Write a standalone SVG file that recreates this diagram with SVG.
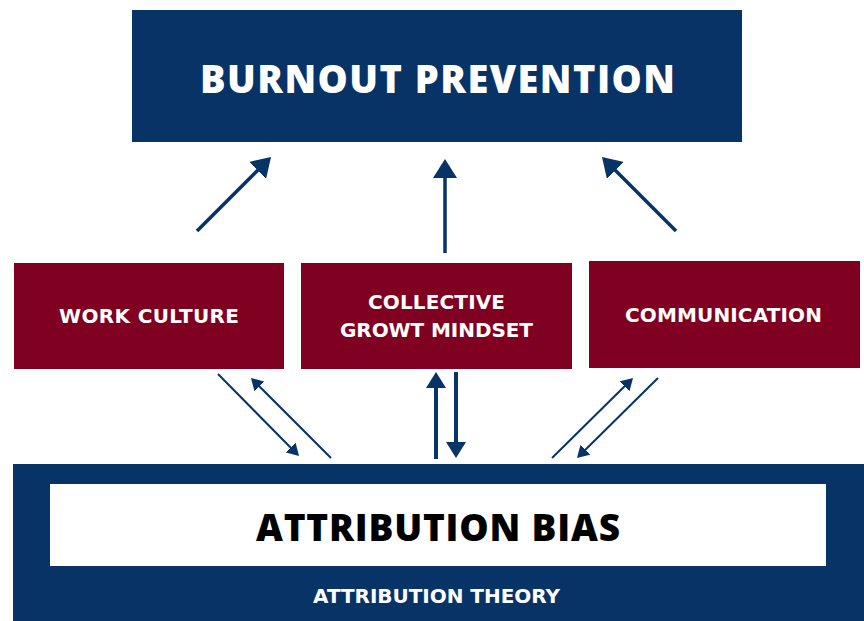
<svg xmlns="http://www.w3.org/2000/svg" width="864" height="621" viewBox="0 0 864 621">
  <style>
    .navy { fill: #073366; }
    .maroon { fill: #800022; }
    .label { font-family: "DejaVu Sans", "Liberation Sans", sans-serif; font-weight: 700; fill: #ffffff; text-anchor: middle; }
    .title { font-family: "Open Sans", "Liberation Sans", sans-serif; font-weight: 800; text-anchor: middle; }
    .link { stroke: #073366; fill: none; stroke-linecap: butt; }
  </style>
  <defs>
    <marker id="headL" markerUnits="userSpaceOnUse" markerWidth="19" markerHeight="24" refX="15" refY="12" orient="auto">
      <path d="M0,0 L19,12 L0,24 z" fill="#073366"/>
    </marker>
    <marker id="headM" markerUnits="userSpaceOnUse" markerWidth="16" markerHeight="20" refX="12" refY="10" orient="auto">
      <path d="M0,0 L16,10 L0,20 z" fill="#073366"/>
    </marker>
    <marker id="headS" markerUnits="userSpaceOnUse" markerWidth="12" markerHeight="14" refX="8" refY="7" orient="auto">
      <path d="M0,0 L12,7 L0,14 z" fill="#073366"/>
    </marker>
  </defs>

  <rect width="864" height="621" fill="#ffffff"/>

  <!-- Goal -->
  <g id="burnout-prevention">
    <rect class="navy" x="132" y="10" width="610" height="132"/>
    <text class="title" x="437.5" y="93" font-size="38" fill="#ffffff" textLength="475">BURNOUT PREVENTION</text>
  </g>

  <!-- Factors -->
  <g id="work-culture">
    <rect class="maroon" x="14" y="263" width="270" height="106"/>
    <text class="label" x="149" y="323" font-size="20" textLength="180">WORK CULTURE</text>
  </g>
  <g id="collective-growth-mindset">
    <rect class="maroon" x="301" y="263" width="271" height="106"/>
    <text class="label" x="436.5" y="309" font-size="20" textLength="137">COLLECTIVE</text>
    <text class="label" x="436.5" y="337" font-size="20" textLength="193">GROWT MINDSET</text>
  </g>
  <g id="communication">
    <rect class="maroon" x="589" y="261" width="271" height="107"/>
    <text class="label" x="723.5" y="322" font-size="20" textLength="197">COMMUNICATION</text>
  </g>

  <!-- Foundation -->
  <g id="attribution-theory">
    <rect class="navy" x="13" y="464" width="851" height="157"/>
    <rect x="50" y="484" width="776" height="82" fill="#ffffff"/>
    <text class="title" x="438" y="541" font-size="37" font-weight="900" fill="#000000" textLength="364">ATTRIBUTION BIAS</text>
    <text class="label" x="436.5" y="603" font-size="20" textLength="247">ATTRIBUTION THEORY</text>
  </g>

  <!-- Connectors -->
  <g id="connectors">
    <line class="link" x1="197" y1="231" x2="268.2" y2="159.8" stroke-width="3.5" marker-end="url(#headL)"/>
    <line class="link" x1="445" y1="253" x2="445" y2="163" stroke-width="3.5" marker-end="url(#headL)"/>
    <line class="link" x1="676" y1="231" x2="604.8" y2="159.8" stroke-width="3.5" marker-end="url(#headL)"/>

    <line class="link" x1="218" y1="374" x2="296.2" y2="453.2" stroke-width="2" marker-end="url(#headS)"/>
    <line class="link" x1="331" y1="458" x2="253.8" y2="380.8" stroke-width="2" marker-end="url(#headS)"/>

    <line class="link" x1="436" y1="459" x2="436" y2="376" stroke-width="4" marker-end="url(#headM)"/>
    <line class="link" x1="456" y1="372" x2="456" y2="454" stroke-width="4" marker-end="url(#headM)"/>

    <line class="link" x1="552" y1="458" x2="630.2" y2="380.8" stroke-width="2" marker-end="url(#headS)"/>
    <line class="link" x1="658" y1="378" x2="579.8" y2="455.2" stroke-width="2" marker-end="url(#headS)"/>
  </g>
</svg>
